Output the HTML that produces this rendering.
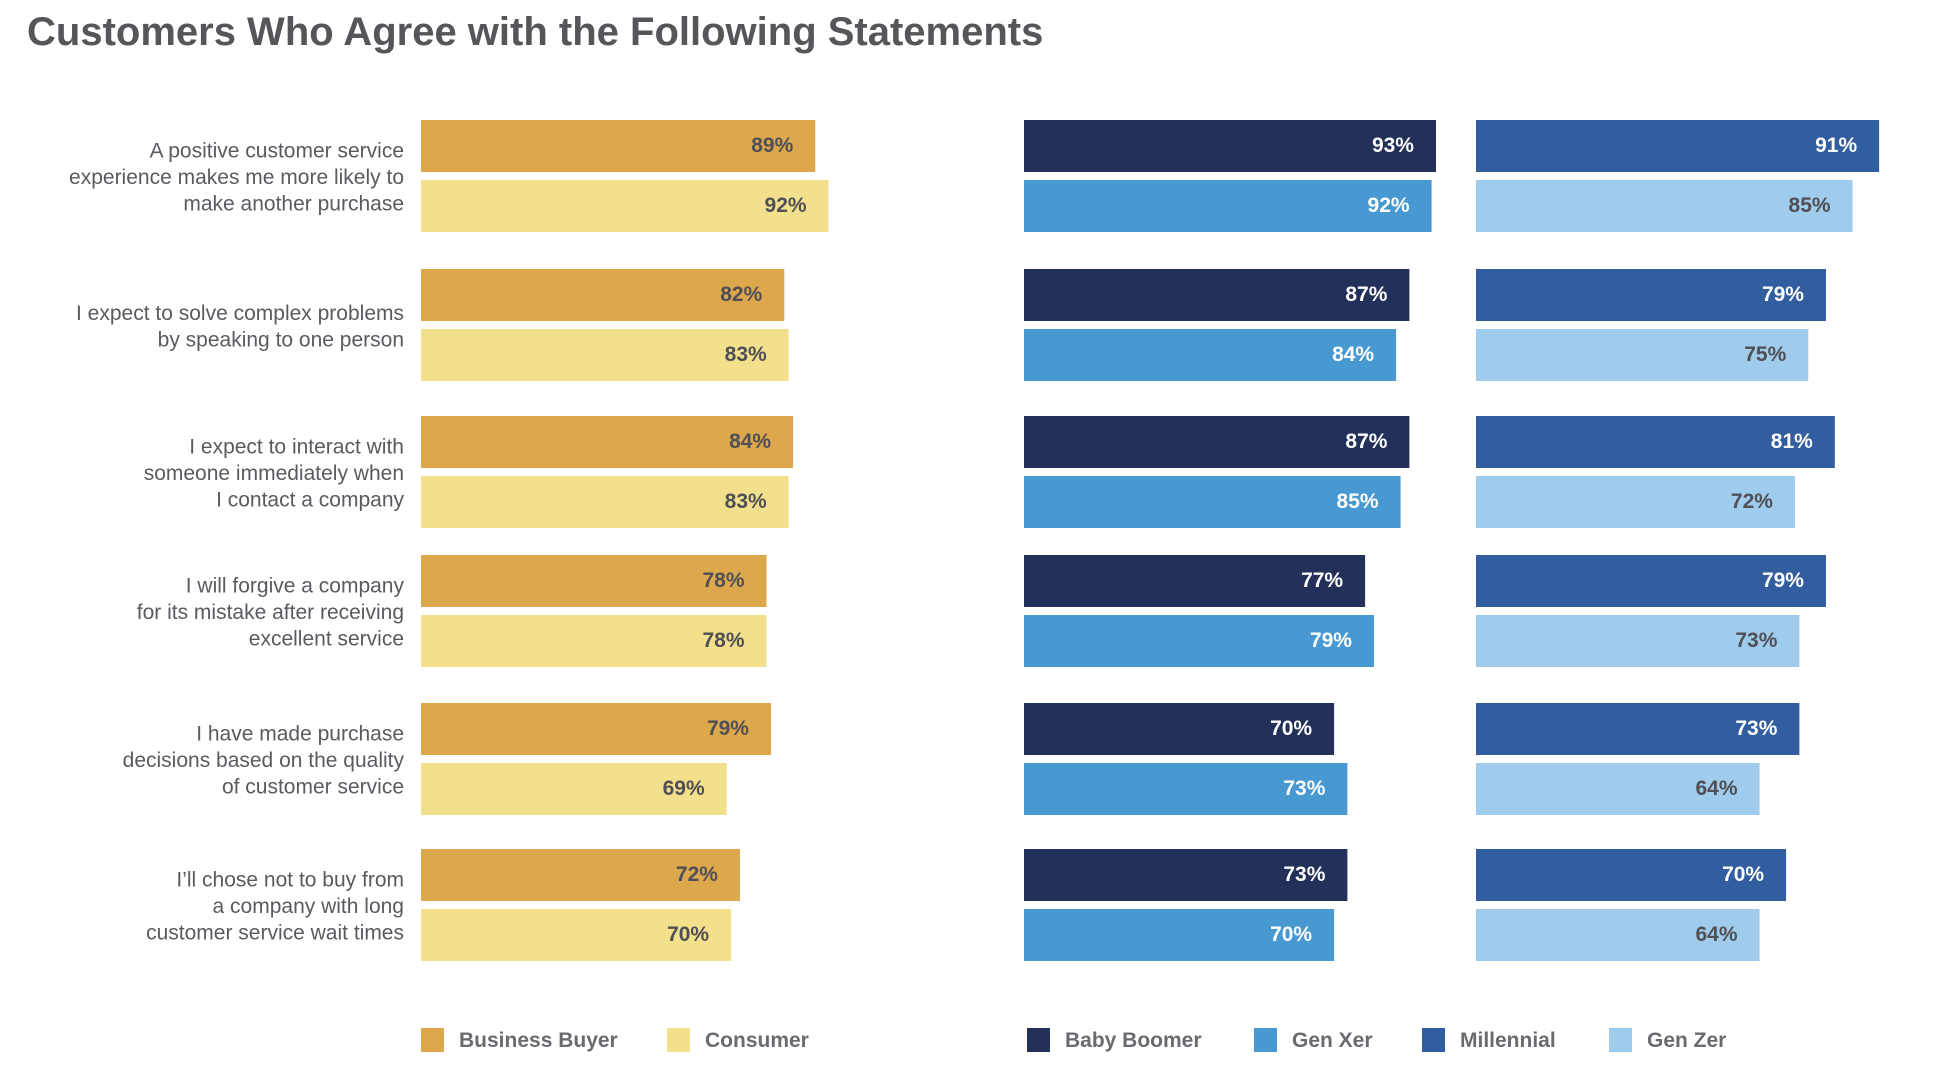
<!DOCTYPE html>
<html><head><meta charset="utf-8">
<style>
html,body{margin:0;padding:0;background:#fff;}
svg{display:block;font-family:"Liberation Sans",sans-serif;}
</style></head>
<body>
<svg id="chart" width="1948" height="1082" viewBox="0 0 1948 1082" xmlns="http://www.w3.org/2000/svg">
<text x="27" y="45" font-size="40" font-weight="bold" fill="#55555a">Customers Who Agree with the Following Statements</text>
<g id="bars"></g>
<g id="legend"></g>
</svg>
<script>
const categories = [
 ["A positive customer service","experience makes me more likely to","make another purchase"],
 ["I expect to solve complex problems","by speaking to one person"],
 ["I expect to interact with","someone immediately when","I contact a company"],
 ["I will forgive a company","for its mistake after receiving","excellent service"],
 ["I have made purchase","decisions based on the quality","of customer service"],
 ["I\u2019ll chose not to buy from","a company with long","customer service wait times"]
];
const businessBuyer = [89,82,84,78,79,72];
const consumer = [92,83,83,78,69,70];
const babyBoomer = [93,87,87,77,70,73];
const genXer = [92,84,85,79,73,70];
const millennial = [91,79,81,79,73,70];
const genZer = [85,75,72,73,64,64];

const NS = "http://www.w3.org/2000/svg";
const groupTops = [120,269,416,555,703,849];
const barH = 52, off = 60, scale = 4.43;
const xOf = (v) => v * scale;
const panels = [
 {x0:421, top:businessBuyer, bot:consumer, topC:"#dda74c", botC:"#f3e08c", topT:"#4f4f55", botT:"#4f4f55", tn:"business-buyer", bn:"consumer"},
 {x0:1024, top:babyBoomer, bot:genXer, topC:"#22305a", botC:"#4899d2", topT:"#fff", botT:"#fff", tn:"baby-boomer", bn:"gen-xer"},
 {x0:1476, top:millennial, bot:genZer, topC:"#325d9f", botC:"#9fccec", topT:"#fff", botT:"#4f4f55", tn:"millennial", bn:"gen-zer"}
];
const g = document.getElementById("bars");
function mk(tag, attrs){const e=document.createElementNS(NS,tag);for(const k in attrs)e.setAttribute(k,attrs[k]);return e;}
categories.forEach((lines,i)=>{
  const gt = groupTops[i];
  const cy = gt + (off+barH)/2;
  const lh = 26.5;
  const t = mk("text",{x:404,"text-anchor":"end","font-size":"21",fill:"#5a5a60"});
  
  
  lines.forEach((ln,j)=>{
    const ts = mk("tspan",{x:404,y:cy + (j-(lines.length-1)/2)*lh + 8});
    ts.textContent = ln; t.appendChild(ts);
  });
  g.appendChild(t);
  panels.forEach(p=>{
    [[p.top[i],gt,p.topC,p.topT,p.tn],[p.bot[i],gt+off,p.botC,p.botT,p.bn]].forEach(([v,y,c,tc,n])=>{
      const r = mk("rect",{x:p.x0,y:y,width:xOf(v),height:barH,fill:c});
      
      
      g.appendChild(r);
      const lt = mk("text",{x:p.x0+xOf(v)-22,y:y+barH/2+6,"text-anchor":"end","font-size":"21","font-weight":"bold",fill:tc});
      
      
      lt.textContent = v+"%";
      g.appendChild(lt);
    });
  });
});
const legendNames = ["Business Buyer","Consumer","Baby Boomer","Gen Xer","Millennial","Gen Zer"];
const legendColors = ["#dda74c","#f3e08c","#22305a","#4899d2","#325d9f","#9fccec"];
const legendX = [421,667,1027,1254,1422,1609];
const lg = document.getElementById("legend");
legendNames.forEach((n,i)=>{
  const r = mk("rect",{x:legendX[i],y:1028,width:23,height:24,fill:legendColors[i]});
  
  
  lg.appendChild(r);
  const t = mk("text",{x:legendX[i]+38,y:1047,"font-size":"21","font-weight":"bold",fill:"#6a6a70"});
  
  
  t.textContent = n;
  lg.appendChild(t);
});
</script>
</body></html>
